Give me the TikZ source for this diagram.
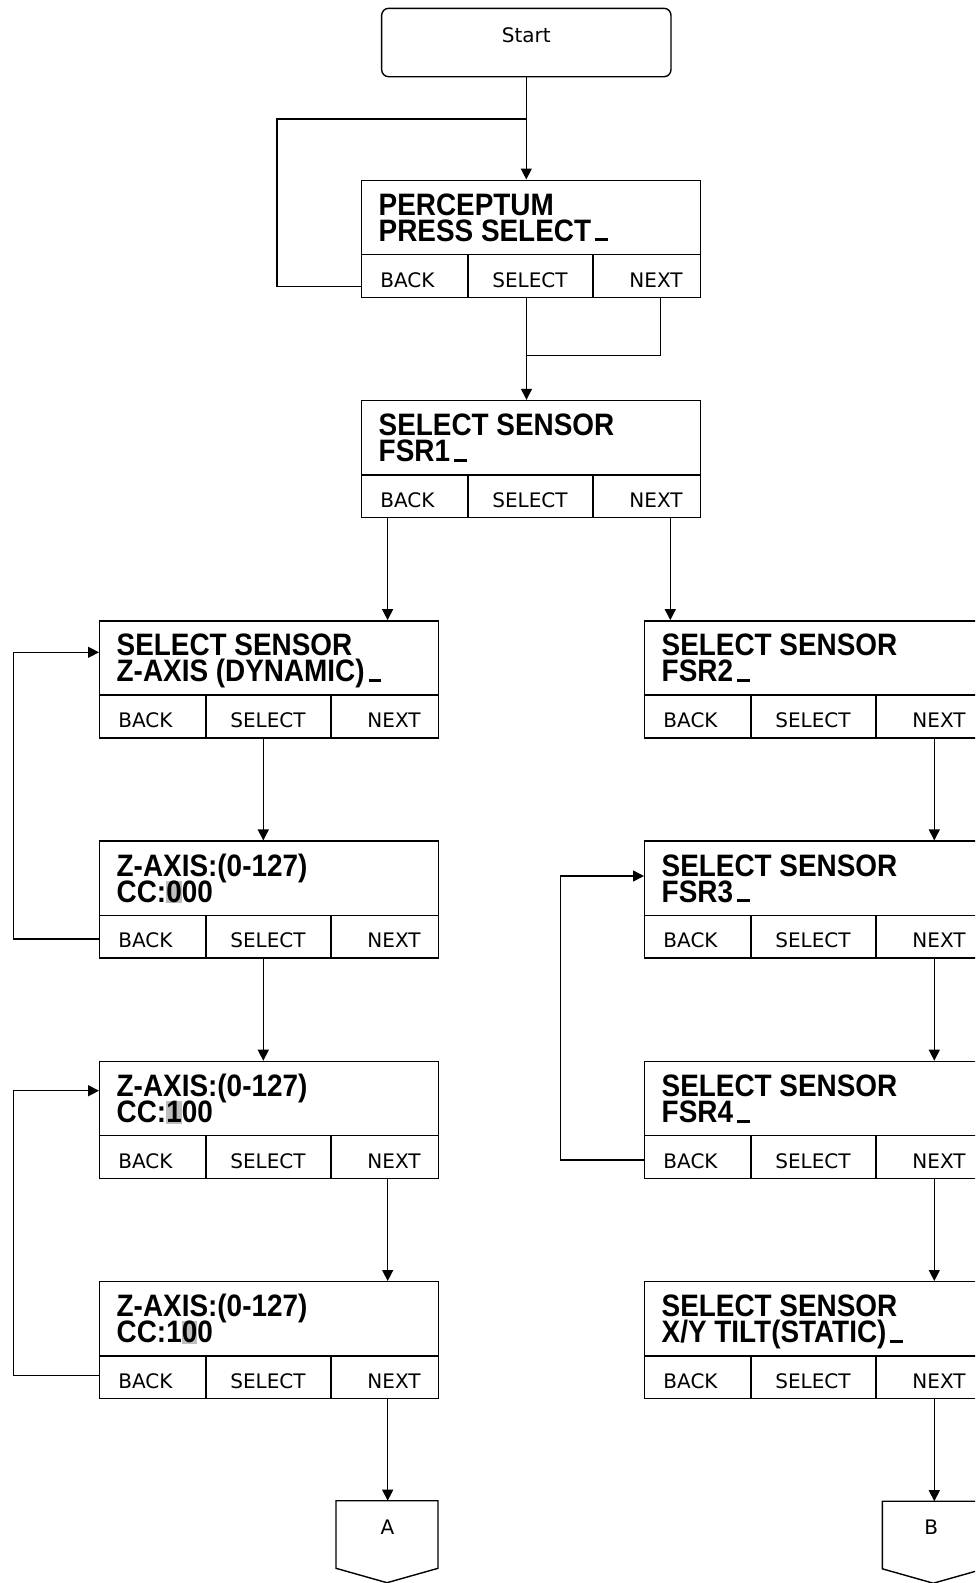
\documentclass[tikz,border=0pt]{standalone}
\usepackage{fontspec}
\usetikzlibrary{calc,arrows.meta}
\newfontfamily\lcdfont{Liberation Sans}[FakeStretch=0.9]
\newfontfamily\btnfont{DejaVu Sans}
\definecolor{hlgray}{RGB}{190,190,190}
\newcommand\cur{\hspace{4pt}\rule{12.5pt}{3pt}}
\newcommand\hlc[1]{{\setlength{\fboxsep}{0pt}\colorbox{hlgray}{\rule[-1pt]{0pt}{21pt}#1}}}
\newcommand\twolines[2]{\vtop{\baselineskip=26pt\lineskiplimit=-100pt\hbox{#1}\hbox{#2}}}
\tikzset{
 box/.style={draw=black, line width=1.4pt},
 scr/.style={box, minimum width=339pt, minimum height=117pt, inner sep=0pt, anchor=north west},
 lcd/.style={anchor=base west, inner sep=0pt, font=\lcdfont\bfseries\fontsize{31}{31}\selectfont},
 btn/.style={anchor=base, inner sep=0pt, font=\btnfont\fontsize{20}{20}\selectfont},
 line/.style={line width=1.4pt},
 arr/.style={line, -{Triangle[width=11pt,length=11pt]}},
}
\newcommand\screen[5]{%
 \node[scr] (#1) at (#2,#3) {};
 \draw[line] ($(#1.north west)+(0,75)$) -- ($(#1.north east)+(0,75)$);
 \draw[line] ($(#1.north west)+(107,75)$) -- ($(#1.south west)+(107,0)$);
 \draw[line] ($(#1.north west)+(232,75)$) -- ($(#1.south west)+(232,0)$);
 \node[lcd] (#1-t) at ($(#1.north west)+(17.5,35.8)$) {\twolines{#4}{#5}};
 \node[btn] (#1-bk) at ($(#1.north west)+(46.5,107.5)$) {BACK};
 \node[btn] (#1-sl) at ($(#1.north west)+(169,107.5)$) {SELECT};
 \node[btn] (#1-nx) at ($(#1.north west)+(295,107.5)$) {NEXT};
}
\begin{document}
\begin{tikzpicture}[x=1pt,y=-1pt]
\useasboundingbox (0,0) rectangle (975,1583);
\clip (0,0) rectangle (975,1583);
\fill[white] (0,0) rectangle (975,1583);

% start
\node[box, rounded corners=7pt, minimum width=289.3pt, minimum height=68.4pt, inner sep=0pt] (start) at (526.3,42.5) {};
\node[btn] (start-t) at (526.3,42.3) {Start};

% screens
\screen{p}{361}{179.5}{PERCEPTUM}{PRESS SELECT\cur}
\screen{s1}{361}{399.8}{SELECT SENSOR}{FSR1\cur}
\screen{zd}{99}{620.1}{SELECT SENSOR}{Z-AXIS (DYNAMIC)\cur}
\screen{za}{99}{840.4}{Z-AXIS:(0-127)}{CC:\hlc{0}00}
\screen{zb}{99}{1060.7}{Z-AXIS:(0-127)}{CC:\hlc{1}00}
\screen{zc}{99}{1281}{Z-AXIS:(0-127)}{CC:1\hlc{0}0}
\screen{f2}{644}{620.1}{SELECT SENSOR}{FSR2\cur}
\screen{f3}{644}{840.4}{SELECT SENSOR}{FSR3\cur}
\screen{f4}{644}{1060.7}{SELECT SENSOR}{FSR4\cur}
\screen{xy}{644}{1281}{SELECT SENSOR}{X/Y TILT(STATIC)\cur}

% off-page connectors
\coordinate (A) at (387,1500.7);
\draw[box] ($(A)+(-51,0)$) -- ($(A)+(51,0)$) -- ($(A)+(51,67.6)$) -- ($(A)+(0,82)$) -- ($(A)+(-51,67.6)$) -- cycle;
\node[btn] (A-t) at ($(A)+(0.5,33.3)$) {A};
\coordinate (B) at (933.3,1501.2);
\draw[box] ($(B)+(-51,0)$) -- ($(B)+(51,0)$) -- ($(B)+(51,67.6)$) -- ($(B)+(0,82)$) -- ($(B)+(-51,67.6)$) -- cycle;
\node[btn] (B-t) at ($(B)+(-2,33.3)$) {B};

% ports
\coordinate (l0) at (277,119);
\coordinate (j0) at (start.south |- l0);
\coordinate (pB) at ($(p.south west)+(0,-11.5)$);
\coordinate (pS) at ($(p.south west)+(165.5,0)$);
\coordinate (pN) at ($(p.south west)+(299.7,0)$);
\coordinate (j1) at ($(pS)+(0,57.5)$);
\coordinate (s1B) at ($(s1.south west)+(26.6,0)$);
\coordinate (s1N) at ($(s1.south west)+(309.3,0)$);
\coordinate (zdS) at ($(zd.south west)+(164.3,0)$);
\coordinate (zdE) at ($(zd.north west)+(0,32.2)$);
\coordinate (zaS) at ($(za.south west)+(164.3,0)$);
\coordinate (zaB) at ($(za.south west)+(0,-20)$);
\coordinate (zbN) at ($(zb.south west)+(288.7,0)$);
\coordinate (zbE) at ($(zb.north west)+(0,30)$);
\coordinate (zcN) at ($(zc.south west)+(288.7,0)$);
\coordinate (zcB) at ($(zc.south west)+(0,-23.7)$);
\coordinate (f2N) at ($(f2.south west)+(290.3,0)$);
\coordinate (f3N) at ($(f3.south west)+(290.3,0)$);
\coordinate (f3E) at ($(f3.north west)+(0,35.6)$);
\coordinate (f4N) at ($(f4.south west)+(290.3,0)$);
\coordinate (f4B) at ($(f4.south west)+(0,-19)$);
\coordinate (xyN) at ($(xy.south west)+(290.3,0)$);

% connectors
\draw[arr] (start.south) -- (start.south |- p.north);
\draw[line] (pB) -| (l0) -- (j0);
\draw[line] (pN) |- (j1);
\draw[arr] (pS) -- (j1) -- (j1 |- s1.north);
\draw[arr] (s1B) -- (s1B |- zd.north);
\draw[arr] (s1N) -- (s1N |- f2.north);
\draw[arr] (zdS) -- (zdS |- za.north);
\draw[arr] (zaS) -- (zaS |- zb.north);
\draw[arr] (zaB) -- ++(-85.3,0) |- (zdE);
\draw[arr] (zbN) -- (zbN |- zc.north);
\draw[arr] (zcB) -- ++(-85.3,0) |- (zbE);
\draw[arr] (zcN) -- (zcN |- A);
\draw[arr] (f2N) -- (f2N |- f3.north);
\draw[arr] (f3N) -- (f3N |- f4.north);
\draw[arr] (f4B) -- ++(-83.3,0) |- (f3E);
\draw[arr] (f4N) -- (f4N |- xy.north);
\draw[arr] (xyN) -- (xyN |- B);
\end{tikzpicture}
\end{document}
